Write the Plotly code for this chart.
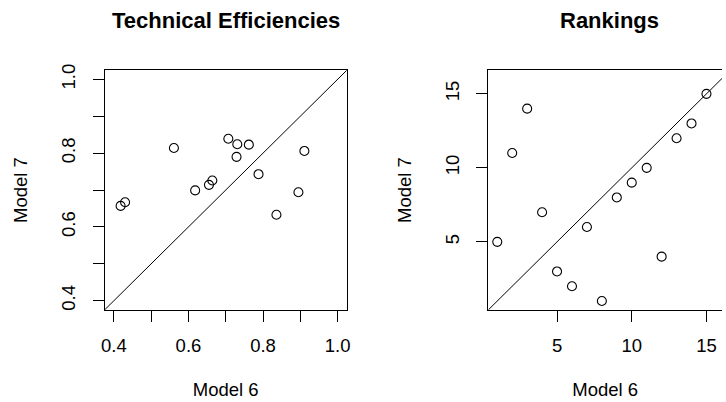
import plotly.graph_objects as go

# Technical efficiency scores under the two models
eff_model6 = [0.418, 0.430, 0.561, 0.618, 0.655, 0.664, 0.707, 0.731,
              0.729, 0.762, 0.788, 0.836, 0.895, 0.911]
eff_model7 = [0.657, 0.667, 0.814, 0.699, 0.714, 0.726, 0.839, 0.824,
              0.790, 0.823, 0.743, 0.633, 0.694, 0.806]

# Rankings (1 = most efficient)
rank_model6 = [1, 2, 3, 4, 5, 6, 7, 8, 9, 10, 11, 12, 13, 14, 15]
rank_model7 = [5, 11, 14, 7, 3, 2, 6, 1, 8, 9, 10, 4, 12, 13, 15]

eff_ticks = [0.4, 0.5, 0.6, 0.7, 0.8, 0.9, 1.0]
eff_ticktext = ["0.4", "", "0.6", "", "0.8", "", "1.0"]
rank_ticks = [5, 10, 15]
rank_ticktext = ["5", "10", "15"]

W, H = 726, 402
FONT = "Liberation Sans, Arial, sans-serif"

eff_range = [0.375, 1.025]
rank_range_x = [0.4, 16.04]
rank_range_y = [0.4, 16.6]

def px_x(p):
    return p / W

def px_y(p):
    return (H - p) / H

ydom = [px_y(309.3), px_y(65.3)]
x1dom = [px_x(101.7), px_x(346.7)]
x2dom = [px_x(489.7), 1.0]

fig = go.Figure()

marker = dict(symbol="circle-open", size=9, color="black",
              line=dict(width=1.1, color="black"))

fig.add_trace(go.Scatter(x=eff_model6, y=eff_model7, mode="markers",
                         marker=marker, xaxis="x", yaxis="y",
                         showlegend=False, hoverinfo="x+y"))
fig.add_trace(go.Scatter(x=eff_range, y=eff_range, mode="lines",
                         line=dict(color="black", width=1),
                         xaxis="x", yaxis="y", showlegend=False,
                         hoverinfo="skip"))

fig.add_trace(go.Scatter(x=rank_model6, y=rank_model7, mode="markers",
                         marker=marker, xaxis="x2", yaxis="y2",
                         showlegend=False, hoverinfo="x+y"))
fig.add_trace(go.Scatter(x=rank_range_y, y=rank_range_y, mode="lines",
                         line=dict(color="black", width=1),
                         xaxis="x2", yaxis="y2", showlegend=False,
                         hoverinfo="skip"))

tickfont = dict(family=FONT, size=18.5, color="black")
titlefont = dict(family=FONT, size=18.5, color="black")

common_axis = dict(showgrid=False, zeroline=False, showline=True,
                   linecolor="black", linewidth=1, ticks="outside",
                   ticklen=11, tickwidth=1, tickcolor="black",
                   tickfont=tickfont, fixedrange=True)

fig.update_layout(
    width=W, height=H, autosize=False,
    margin=dict(l=0, r=0, t=0, b=0),
    paper_bgcolor="white", plot_bgcolor="white",
    xaxis=dict(common_axis, domain=x1dom, range=eff_range, mirror=True,
               tickmode="array", tickvals=eff_ticks, ticktext=eff_ticktext,
               anchor="y", ticklabelstandoff=8,
               title=dict(text="Model 6", font=titlefont, standoff=27)),
    yaxis=dict(common_axis, domain=ydom, range=eff_range, mirror=True,
               tickmode="array", tickvals=eff_ticks, ticktext=eff_ticktext,
               tickangle=-90, anchor="x", ticklabelstandoff=10,
               title=dict(text="Model 7", font=titlefont, standoff=25)),
    xaxis2=dict(common_axis, domain=x2dom, range=rank_range_x, mirror=True,
                tickmode="array", tickvals=rank_ticks, ticktext=rank_ticktext,
                anchor="y2", ticklabelstandoff=8,
                title=dict(text="Model 6", font=titlefont, standoff=27)),
    yaxis2=dict(common_axis, domain=ydom, range=rank_range_y, mirror=False,
                tickmode="array", tickvals=rank_ticks, ticktext=rank_ticktext,
                tickangle=-90, anchor="x2", ticklabelstandoff=10,
                title=dict(text="Model 7", font=titlefont, standoff=25)),
    annotations=[
        dict(text="<b>Technical Efficiencies</b>", x=(101.7 + 346.7) / 2 / W,
             y=px_y(14.5), xref="paper", yref="paper", showarrow=False,
             xanchor="center", yanchor="middle",
             font=dict(family=FONT, size=22, color="black")),
        dict(text="<b>Rankings</b>", x=(489.7 + 734.5) / 2 / W,
             y=px_y(14.5), xref="paper", yref="paper", showarrow=False,
             xanchor="center", yanchor="middle",
             font=dict(family=FONT, size=22, color="black")),
    ],
)

fig.write_html("out.html")
